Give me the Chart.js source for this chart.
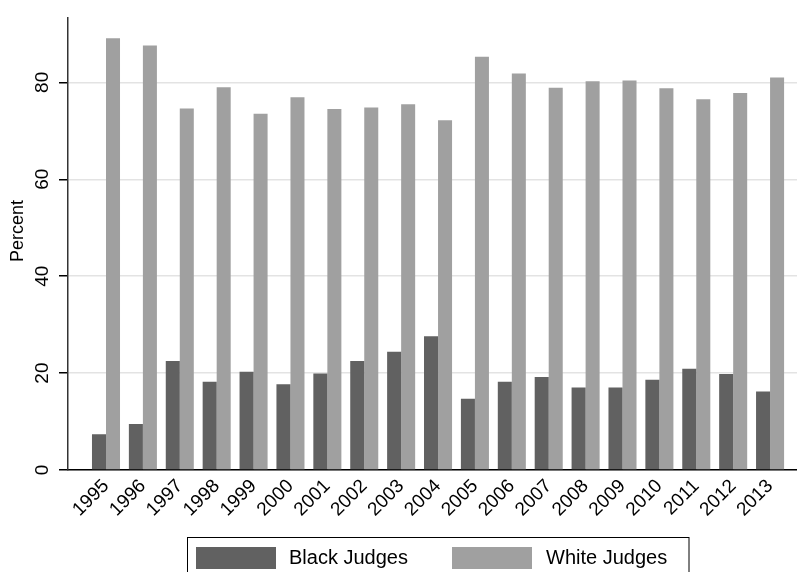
<!DOCTYPE html>
<html>
<head>
<meta charset="utf-8">
<script src="https://cdn.jsdelivr.net/npm/chart.js@4"></script>
<style>
html,body{margin:0;padding:0;background:#fff;}
#c{display:block;}
</style>
</head>
<body>
<canvas id="c" width="797" height="572"></canvas>
<script>
const years = [1995,1996,1997,1998,1999,2000,2001,2002,2003,2004,2005,2006,2007,2008,2009,2010,2011,2012,2013];
const blackJudges = [7.4,9.5,22.5,18.2,20.3,17.7,19.9,22.5,24.4,27.6,14.7,18.2,19.2,17.0,17.0,18.6,20.9,19.8,16.2];
const whiteJudges = [89.1,87.6,74.6,79.0,73.5,76.9,74.5,74.8,75.5,72.2,85.3,81.8,78.9,80.2,80.4,78.8,76.5,77.8,81.0];
const yTicks = [0,20,40,60,80];
const seriesNames = ['Black Judges','White Judges'];
const yTitle = 'Percent';

const FONT = '"Liberation Sans", Arial, Helvetica, sans-serif';

const legendPlugin = {
  id: 'boxLegend',
  afterDraw(chart) {
    const ctx = chart.ctx;
    ctx.save();
    ctx.strokeStyle = '#000';
    ctx.lineWidth = 1;
    ctx.strokeRect(187.5, 537.5, 501.5, 60);
    const items = [{sx:196, tx:289}, {sx:452, tx:546}];
    chart.data.datasets.forEach((ds, i) => {
      ctx.fillStyle = ds.backgroundColor;
      ctx.fillRect(items[i].sx, 547, 80, 22);
      ctx.fillStyle = '#000';
      ctx.font = '20px ' + FONT;
      ctx.textAlign = 'left';
      ctx.textBaseline = 'middle';
      ctx.fillText(ds.label, items[i].tx, 558.5);
    });
    // y-axis title
    ctx.translate(18, 231);
    ctx.rotate(-Math.PI/2);
    ctx.font = '18px ' + FONT;
    ctx.textAlign = 'center';
    ctx.textBaseline = 'middle';
    ctx.fillText(yTitle, 0, 0);
    ctx.restore();
  }
};

new Chart(document.getElementById('c'), {
  type: 'bar',
  data: {
    labels: years,
    datasets: [
      {label: seriesNames[0], data: blackJudges, backgroundColor: '#616161', borderWidth: 0},
      {label: seriesNames[1], data: whiteJudges, backgroundColor: '#a0a0a0', borderWidth: 0}
    ]
  },
  options: {
    responsive: false,
    animation: false,
    devicePixelRatio: 1,
    layout: {padding: {top: 13, left: 0, right: 0, bottom: 0}},
    categoryPercentage: 0.76,
    barPercentage: 1.0,
    plugins: {legend: {display: false}, tooltip: {enabled: false}},
    scales: {
      x: {
        type: 'linear',
        offset: false,
        min: 1993.97,
        max: 2013.73,
        afterBuildTicks: s => { s.ticks = years.map(v => ({value: v})); },
        afterFit: s => { s.height = 102; },
        ticks: {
          autoSkip: false, minRotation: 45, maxRotation: 45,
          color: '#000', font: {family: FONT, size: 19}, padding: 5,
          callback: v => String(v)
        },
        grid: {display: false, drawTicks: false, offset: false},
        border: {display: true, color: '#000', width: 1.5}
      },
      y: {
        min: 0,
        max: 93.4,
        afterBuildTicks: s => { s.ticks = yTicks.map(v => ({value: v})); },
        afterFit: s => { s.width = 68; },
        ticks: {
          minRotation: 90, maxRotation: 90, crossAlign: 'center',
          color: '#000', font: {family: FONT, size: 19}, padding: 6
        },
        grid: {color: '#e3e3e3', lineWidth: 1.5, tickColor: '#000', tickLength: 9, drawTicks: true},
        border: {display: true, color: '#333', width: 1.5}
      }
    }
  },
  plugins: [legendPlugin]
});
</script>
</body>
</html>
